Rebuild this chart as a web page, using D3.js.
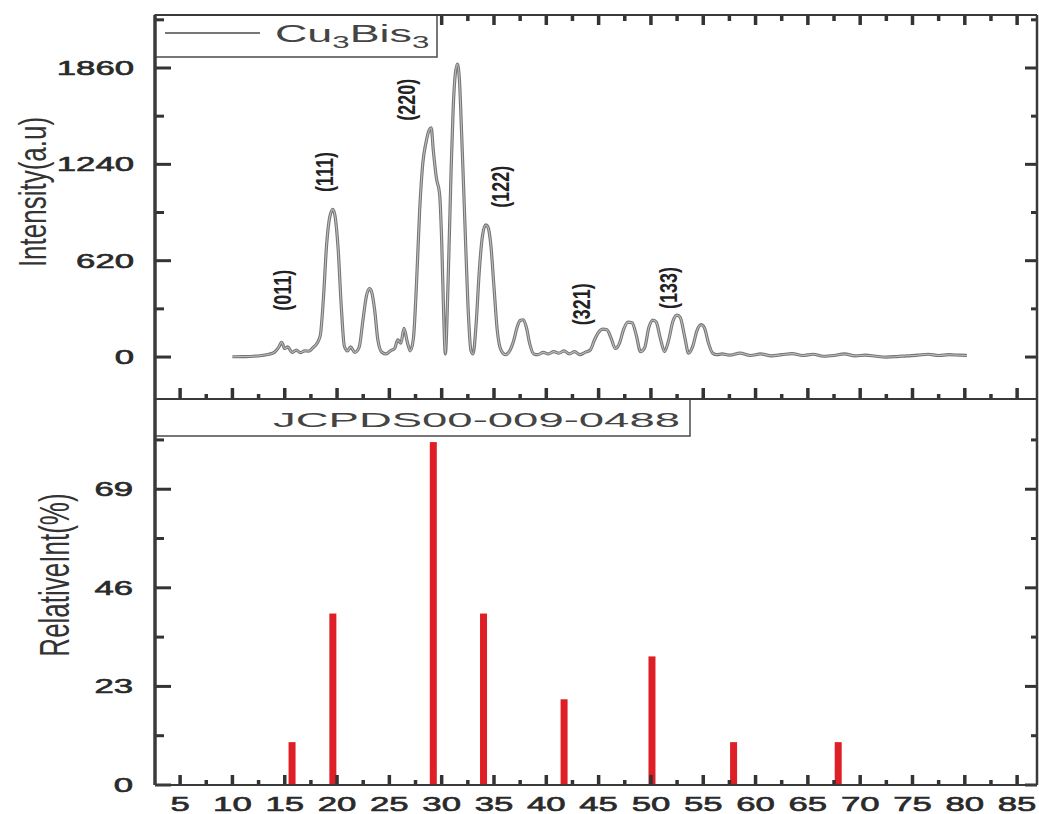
<!DOCTYPE html>
<html>
<head>
<meta charset="utf-8">
<script src="https://cdn.jsdelivr.net/npm/d3@7"></script>
<style>
  body { margin: 0; background: #fff; }
  svg { display: block; }
  text { font-family: "Liberation Sans", Arial, sans-serif; }
</style>
</head>
<body>
<svg id="chart"></svg>
<script>
var WIDTH = 1039;
var HEIGHT = 814;

// measured XRD pattern of Cu3BiS3, [2theta, intensity]
var cuBisPattern = [
  [10.0, 2], [11.0, 3], [12.0, 5], [12.8, 10], [13.5, 18], [14.0, 30], [14.4, 60], [14.7, 95],
  [15.0, 55], [15.3, 65], [15.7, 30], [16.1, 45], [16.5, 28], [16.9, 40], [17.3, 38], [17.7, 60],
  [18.1, 90], [18.4, 140], [18.7, 380], [19.0, 720], [19.3, 900], [19.6, 950], [19.8, 910],
  [20.1, 700], [20.4, 330], [20.7, 70], [21.0, 40], [21.3, 65], [21.7, 30], [22.1, 60], [22.5, 250],
  [22.8, 390], [23.1, 440], [23.3, 420], [23.6, 300], [23.9, 110], [24.3, 30], [24.7, 20], [25.1, 40],
  [25.5, 55], [25.8, 110], [26.1, 90], [26.4, 185], [26.7, 100], [27.0, 40], [27.3, 120], [27.6, 480],
  [27.9, 950], [28.2, 1250], [28.5, 1380], [28.8, 1460], [29.0, 1475], [29.2, 1330], [29.5, 1150],
  [29.8, 1050], [30.0, 750], [30.2, 250], [30.35, 20], [30.6, 450], [30.9, 1200], [31.1, 1600],
  [31.3, 1820], [31.5, 1885], [31.7, 1780], [31.9, 1450], [32.2, 900], [32.5, 350], [32.8, 40],
  [33.0, 20], [33.3, 220], [33.6, 560], [33.9, 780], [34.2, 850], [34.4, 840], [34.7, 720], [35.0, 450],
  [35.3, 180], [35.7, 40], [36.1, 15], [36.5, 40], [36.9, 110], [37.2, 190], [37.5, 235], [37.8, 240],
  [38.1, 190], [38.4, 90], [38.8, 20], [39.2, 15], [39.7, 30], [40.2, 20], [40.7, 35], [41.2, 25],
  [41.7, 40], [42.2, 20], [42.7, 35], [43.2, 15], [43.7, 30], [44.2, 45], [44.6, 110], [45.0, 160],
  [45.4, 180], [45.8, 175], [46.2, 120], [46.6, 55], [47.0, 90], [47.4, 180], [47.8, 225], [48.2, 220],
  [48.6, 140], [49.0, 35], [49.4, 60], [49.8, 190], [50.2, 238], [50.5, 225], [50.9, 120], [51.3, 35],
  [51.7, 110], [52.1, 230], [52.5, 270], [52.8, 255], [53.2, 140], [53.6, 25], [54.0, 70], [54.4, 170],
  [54.8, 208], [55.1, 190], [55.5, 90], [55.9, 25], [56.3, 15], [56.8, 20], [57.5, 12], [58.5, 25],
  [59.5, 10], [60.5, 20], [61.5, 8], [62.5, 15], [63.5, 22], [64.5, 10], [65.5, 18], [66.5, 5],
  [67.5, 10], [68.5, 20], [69.5, 8], [70.5, 12], [71.5, 5], [72.5, 0], [73.5, 3], [74.5, 8],
  [75.5, 12], [76.5, 18], [77.5, 10], [78.5, 15], [79.5, 12], [80.2, 10]
];

// reference card lines
var refTwoTheta = [15.7, 19.6, 29.2, 34.0, 41.7, 50.1, 57.9, 67.9];
var refIntensity = [10, 40, 80, 40, 20, 30, 10, 10];

// hkl annotations (label centre in data units)
var hklText = ['(011)', '(111)', '(220)', '(122)', '(321)', '(133)'];
var hklX = [14.75, 18.8, 26.6, 35.6, 43.4, 51.65];
var hklY = [430, 1190, 1655, 1095, 340, 445];

var xTicks = [5, 10, 15, 20, 25, 30, 35, 40, 45, 50, 55, 60, 65, 70, 75, 80, 85];
var topTicks = [0, 620, 1240, 1860];
var botTicks = [0, 23, 46, 69];

var LEFT = 155, RIGHT = 1037, TOP = 15, MID = 399, BOTTOM = 785;
var STRETCH = 1.78;

var svg = d3.select('#chart').attr('width', WIDTH).attr('height', HEIGHT);

var xScale = d3.scaleLinear().domain([2.6, 86.9]).range([LEFT, RIGHT]);
var yTop = d3.scaleLinear().domain([-270, 2201]).range([MID, TOP]);
var yBot = d3.scaleLinear().domain([0, 90.05]).range([BOTTOM, MID]);

var xMinor = xTicks.map(function(d){ return d + 2.5; }).filter(function(d){ return d < 86; });
var topMinor = topTicks.map(function(d){ return d + 310; });
var botMinor = botTicks.map(function(d){ return d + 11.5; });

// spectrum
var line = d3.line()
  .x(function(d){ return xScale(d[0]); })
  .y(function(d){ return yTop(d[1]); })
  .curve(d3.curveMonotoneX);

svg.append('path').datum(cuBisPattern)
  .attr('d', line).attr('fill', 'none')
  .attr('stroke', '#767676').attr('stroke-width', 3.2).attr('stroke-linejoin', 'round');
svg.append('path').datum(cuBisPattern)
  .attr('d', line).attr('fill', 'none')
  .attr('stroke', '#bdbdbd').attr('stroke-width', 1.1);

// reference bars
svg.selectAll('rect.ref')
  .data(refTwoTheta)
  .enter()
  .append('rect')
  .attr('class', 'ref')
  .attr('x', function(d){ return xScale(d) - 3.5; })
  .attr('width', 7)
  .attr('y', function(d, i){ return yBot(refIntensity[i]); })
  .attr('height', function(d, i){ return yBot(0) - yBot(refIntensity[i]); })
  .attr('fill', '#df1f26');

// tick labels
function label(x, y, txt, anchor, size){
  svg.append('text')
    .attr('transform', 'translate(' + x + ',' + y + ') scale(' + STRETCH + ',1)')
    .attr('text-anchor', anchor)
    .attr('font-size', size)
    .attr('fill', '#2a2a2a')
    .attr('stroke', '#2a2a2a').attr('stroke-width', 0.6)
    .text(txt);
}
topTicks.forEach(function(v){ label(134, yTop(v) + 7, v, 'end', 19.5); });
botTicks.forEach(function(v){ label(133, yBot(v) + 7, v, 'end', 19.5); });
xTicks.forEach(function(v){ label(xScale(v), 811, v, 'middle', 19.5); });

// hkl labels
hklText.forEach(function(t, i){
  svg.append('text')
    .attr('transform', 'translate(' + xScale(hklX[i]) + ',' + yTop(hklY[i]) + ') scale(1.3,1) rotate(-90)')
    .attr('text-anchor', 'middle')
    .attr('dominant-baseline', 'central')
    .attr('font-size', 18)
    .attr('font-weight', 'bold')
    .attr('fill', '#222')
    .text(t);
});

// axis titles
svg.append('text')
  .attr('transform', 'translate(32,192) scale(1.5,1) rotate(-90)')
  .attr('text-anchor', 'middle').attr('dominant-baseline', 'central')
  .attr('font-size', 26).attr('fill', '#333')
  .text('Intensity(a.u)');
svg.append('text')
  .attr('transform', 'translate(54,575) scale(1.65,1) rotate(-90)')
  .attr('text-anchor', 'middle').attr('dominant-baseline', 'central')
  .attr('font-size', 26).attr('fill', '#333')
  .text('RelativeInt(%)');

// legends
svg.append('rect').attr('x', LEFT).attr('y', TOP).attr('width', 437 - LEFT).attr('height', 57 - TOP)
  .attr('fill', '#fff').attr('stroke', '#555').attr('stroke-width', 1.6);
svg.append('line').attr('x1', 165).attr('x2', 260).attr('y1', 33).attr('y2', 33)
  .attr('stroke', '#777').attr('stroke-width', 2);
var leg = svg.append('text')
  .attr('transform', 'translate(275,42) scale(1.95,1)')
  .attr('font-size', 23).attr('fill', '#444');
leg.append('tspan').text('Cu');
leg.append('tspan').attr('dy', 6).attr('font-size', 16).text('3');
leg.append('tspan').attr('dy', -6).text('Bis');
leg.append('tspan').attr('dy', 6).attr('font-size', 16).text('3');

svg.append('rect').attr('x', LEFT).attr('y', MID).attr('width', 690 - LEFT).attr('height', 436 - MID)
  .attr('fill', '#fff').attr('stroke', '#555').attr('stroke-width', 1.6);
svg.append('text')
  .attr('x', 273).attr('y', 427)
  .attr('font-size', 21).attr('fill', '#444')
  .attr('textLength', 407).attr('lengthAdjust', 'spacingAndGlyphs')
  .text('JCPDS00-009-0488');

// ticks (inward), drawn last so nothing covers them
function vTicks(scale, values, x0, len){
  svg.append('g').selectAll('path')
    .data(values).enter().append('path')
    .attr('d', function(d){ return 'M' + x0 + ',' + scale(d) + 'H' + (x0 + len); })
    .attr('stroke', '#333').attr('stroke-width', 3).attr('fill', 'none');
}
function hTicks(values, y0, len, skipUnder){
  svg.append('g').selectAll('path')
    .data(values.filter(function(d){ return !skipUnder || xScale(d) > skipUnder; }))
    .enter().append('path')
    .attr('d', function(d){ return 'M' + xScale(d) + ',' + y0 + 'V' + (y0 + len); })
    .attr('stroke', '#333').attr('stroke-width', 3.5).attr('fill', 'none');
}
vTicks(yTop, topTicks, LEFT, 16);
vTicks(yTop, topMinor, LEFT, 9);
vTicks(yTop, topTicks, RIGHT, -12);
vTicks(yTop, topMinor, RIGHT, -6);
hTicks(xTicks, TOP, 10, 437);
hTicks(xMinor, TOP, 6, 437);
hTicks(xTicks, MID, -11);
hTicks(xMinor, MID, -5);
vTicks(yBot, botTicks, LEFT, 16);
vTicks(yBot, botMinor, LEFT, 9);
vTicks(yBot, botTicks, RIGHT, -12);
vTicks(yBot, botMinor, RIGHT, -6);
hTicks(xTicks, BOTTOM, -10);
hTicks(xMinor, BOTTOM, -5);

// frame
var frame = svg.append('g').attr('stroke', '#3a3a3a').attr('fill', 'none');
frame.append('path').attr('d', 'M' + LEFT + ',' + TOP + 'V' + BOTTOM).attr('stroke-width', 3.5);
frame.append('path').attr('d', 'M' + RIGHT + ',' + TOP + 'V' + BOTTOM).attr('stroke-width', 2.5);
[TOP, MID, BOTTOM].forEach(function(y){
  frame.append('path').attr('d', 'M' + LEFT + ',' + y + 'H' + RIGHT).attr('stroke-width', 2.2);
});
</script>
</body>
</html>
